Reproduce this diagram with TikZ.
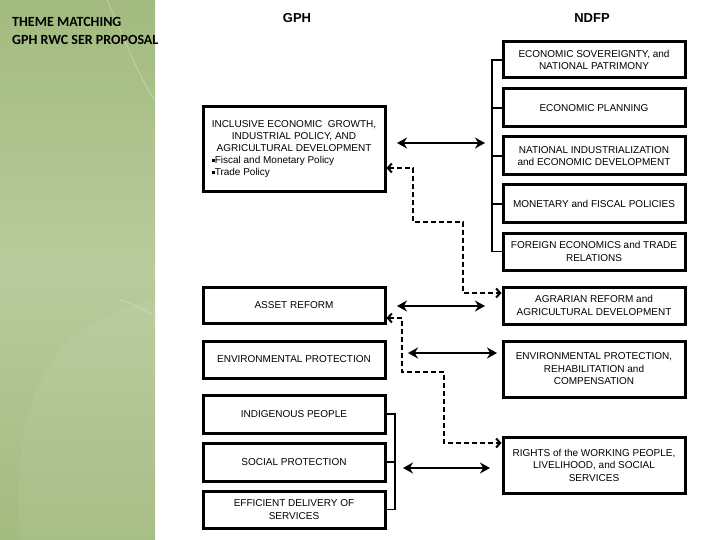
\documentclass[tikz,border=0pt]{standalone}
\usepackage{fontspec}
\setmainfont{Liberation Sans}
\newfontfamily\titlefont{Carlito}
\usetikzlibrary{positioning, arrows.meta}

\definecolor{panelA}{HTML}{A2BA7F}
\definecolor{panelB}{HTML}{B9CB9C}
\definecolor{panelC}{HTML}{A3BA80}

\begin{document}
\begin{tikzpicture}[
    x=1pt, y=-1pt,
    box/.style     = {rectangle, draw=black, fill=white, line width=3pt, inner sep=2pt,
                      minimum width=182pt, align=center, font=\fontsize{10}{12.5}\selectfont},
    head/.style    = {font=\bfseries\fontsize{13}{14}\selectfont},
    bracket/.style = {line width=1.5pt},
    dbl/.style     = {line width=2.5pt, {Stealth[length=10pt, width=11pt]}-{Stealth[length=10pt, width=11pt]}},
    dlink/.style   = {line width=2pt, dash pattern=on 5pt off 3pt,
                      {Straight Barb[length=4pt, width=9pt]}-{Straight Barb[length=4pt, width=9pt]}}
]
\useasboundingbox (0,0) rectangle (720,540);

% green side panel
\shade[top color=panelA, bottom color=panelC, middle color=panelB] (0,0) rectangle (155,540);
\fill[white, opacity=0.06] (20,540) .. controls (10,380) and (60,320) .. (155,300)
    -- (155,540) -- cycle;
\draw[white, opacity=0.3, line width=0.8pt] (107,0) .. controls (125,40) and (140,80) .. (155,100);
\draw[white, opacity=0.25, line width=0.8pt] (120,300) .. controls (135,305) and (145,310) .. (155,316);

% title
\node[anchor=north west, align=left, inner sep=0pt, font=\titlefont\bfseries\fontsize{14}{18}\selectfont]
    (title) at (12,17) {THEME MATCHING\\GPH RWC SER PROPOSAL};

% column headers
\node[head] (gph)  at (297,18) {GPH};
\node[head] (ndfp) at (592,18) {NDFP};

% NDFP column
\node[box, minimum height=36pt] (sover) at (594,60)    {ECONOMIC SOVEREIGNTY, and\\NATIONAL PATRIMONY};
\node[box, minimum height=38pt] (plan)  at (594,108)   {ECONOMIC PLANNING};
\node[box, minimum height=38pt] (indus) at (594,156)   {NATIONAL INDUSTRIALIZATION\\and ECONOMIC DEVELOPMENT};
\node[box, minimum height=38pt] (monet) at (594,204)   {MONETARY and FISCAL POLICIES};
\node[box, minimum height=37pt] (foreign) at (594,251.5) {FOREIGN ECONOMICS and TRADE\\RELATIONS};
\node[box, minimum height=37pt] (agrar) at (594,305.5) {AGRARIAN REFORM and\\AGRICULTURAL DEVELOPMENT};
\node[box, minimum height=56pt] (envr)  at (594,369)   {ENVIRONMENTAL PROTECTION,\\REHABILITATION and\\COMPENSATION};
\node[box, minimum height=56pt] (rights) at (594,465)  {RIGHTS of the WORKING PEOPLE,\\LIVELIHOOD, and SOCIAL\\SERVICES};

% GPH column
\node[box, minimum height=85pt] (incl) at (294,149.5) {%
    \begin{tabular}{@{}l@{}}
    \multicolumn{1}{@{}c@{}}{INCLUSIVE ECONOMIC\ \ GROWTH,}\\[-0.5pt]
    \multicolumn{1}{@{}c@{}}{INDUSTRIAL POLICY, AND}\\[-0.5pt]
    \multicolumn{1}{@{}c@{}}{AGRICULTURAL DEVELOPMENT}\\[-0.5pt]
    \rule[1.5pt]{3pt}{3pt}Fiscal and Monetary Policy\\[-0.5pt]
    \rule[1.5pt]{3pt}{3pt}Trade Policy
    \end{tabular}};
\node[box, minimum height=36pt] (asset)  at (294,305)   {ASSET REFORM};
\node[box, minimum height=37pt] (envg)   at (294,359.5) {ENVIRONMENTAL PROTECTION};
\node[box, minimum height=38pt] (indig)  at (294,414)   {INDIGENOUS PEOPLE};
\node[box, minimum height=38pt] (social) at (294,462)   {SOCIAL PROTECTION};
\node[box, minimum height=37pt] (effic)  at (294,509.5) {EFFICIENT DELIVERY OF\\SERVICES};

% bracket on the NDFP side
\coordinate (rb) at (492,0);
\draw[bracket] (sover.west) -- (sover.west -| rb) -- (foreign.west -| rb) -- (foreign.west);
\foreach \b in {plan, indus, monet}
    \draw[bracket] (\b.west -| rb) -- (\b.west);

% bracket on the GPH side
\coordinate (lb) at (395,0);
\draw[bracket] (indig.east) -- (indig.east -| lb) -- (effic.east -| lb) -- (effic.east);
\draw[bracket] (social.east) -- (social.east -| lb);

% solid links
\coordinate (a1) at (397,143);  \coordinate (a2) at (485,143);
\coordinate (b1) at (397,306);  \coordinate (b2) at (485,306);
\coordinate (c1) at (408,353);  \coordinate (c2) at (497,353);
\coordinate (d1) at (403,468);  \coordinate (d2) at (490,468);
\draw[dbl] (a1) -- (a2);
\draw[dbl] (b1) -- (b2);
\draw[dbl] (c1) -- (c2);
\draw[dbl] (d1) -- (d2);

% dashed links
\draw[dlink] (incl.east |- 0,168) -- (413,168) |- (463,222) |- (agrar.west |- 0,293);
\draw[dlink] (asset.east |- 0,318) -- (402,318) |- (444,372) |- (rights.west |- 0,443);

\end{tikzpicture}
\end{document}
